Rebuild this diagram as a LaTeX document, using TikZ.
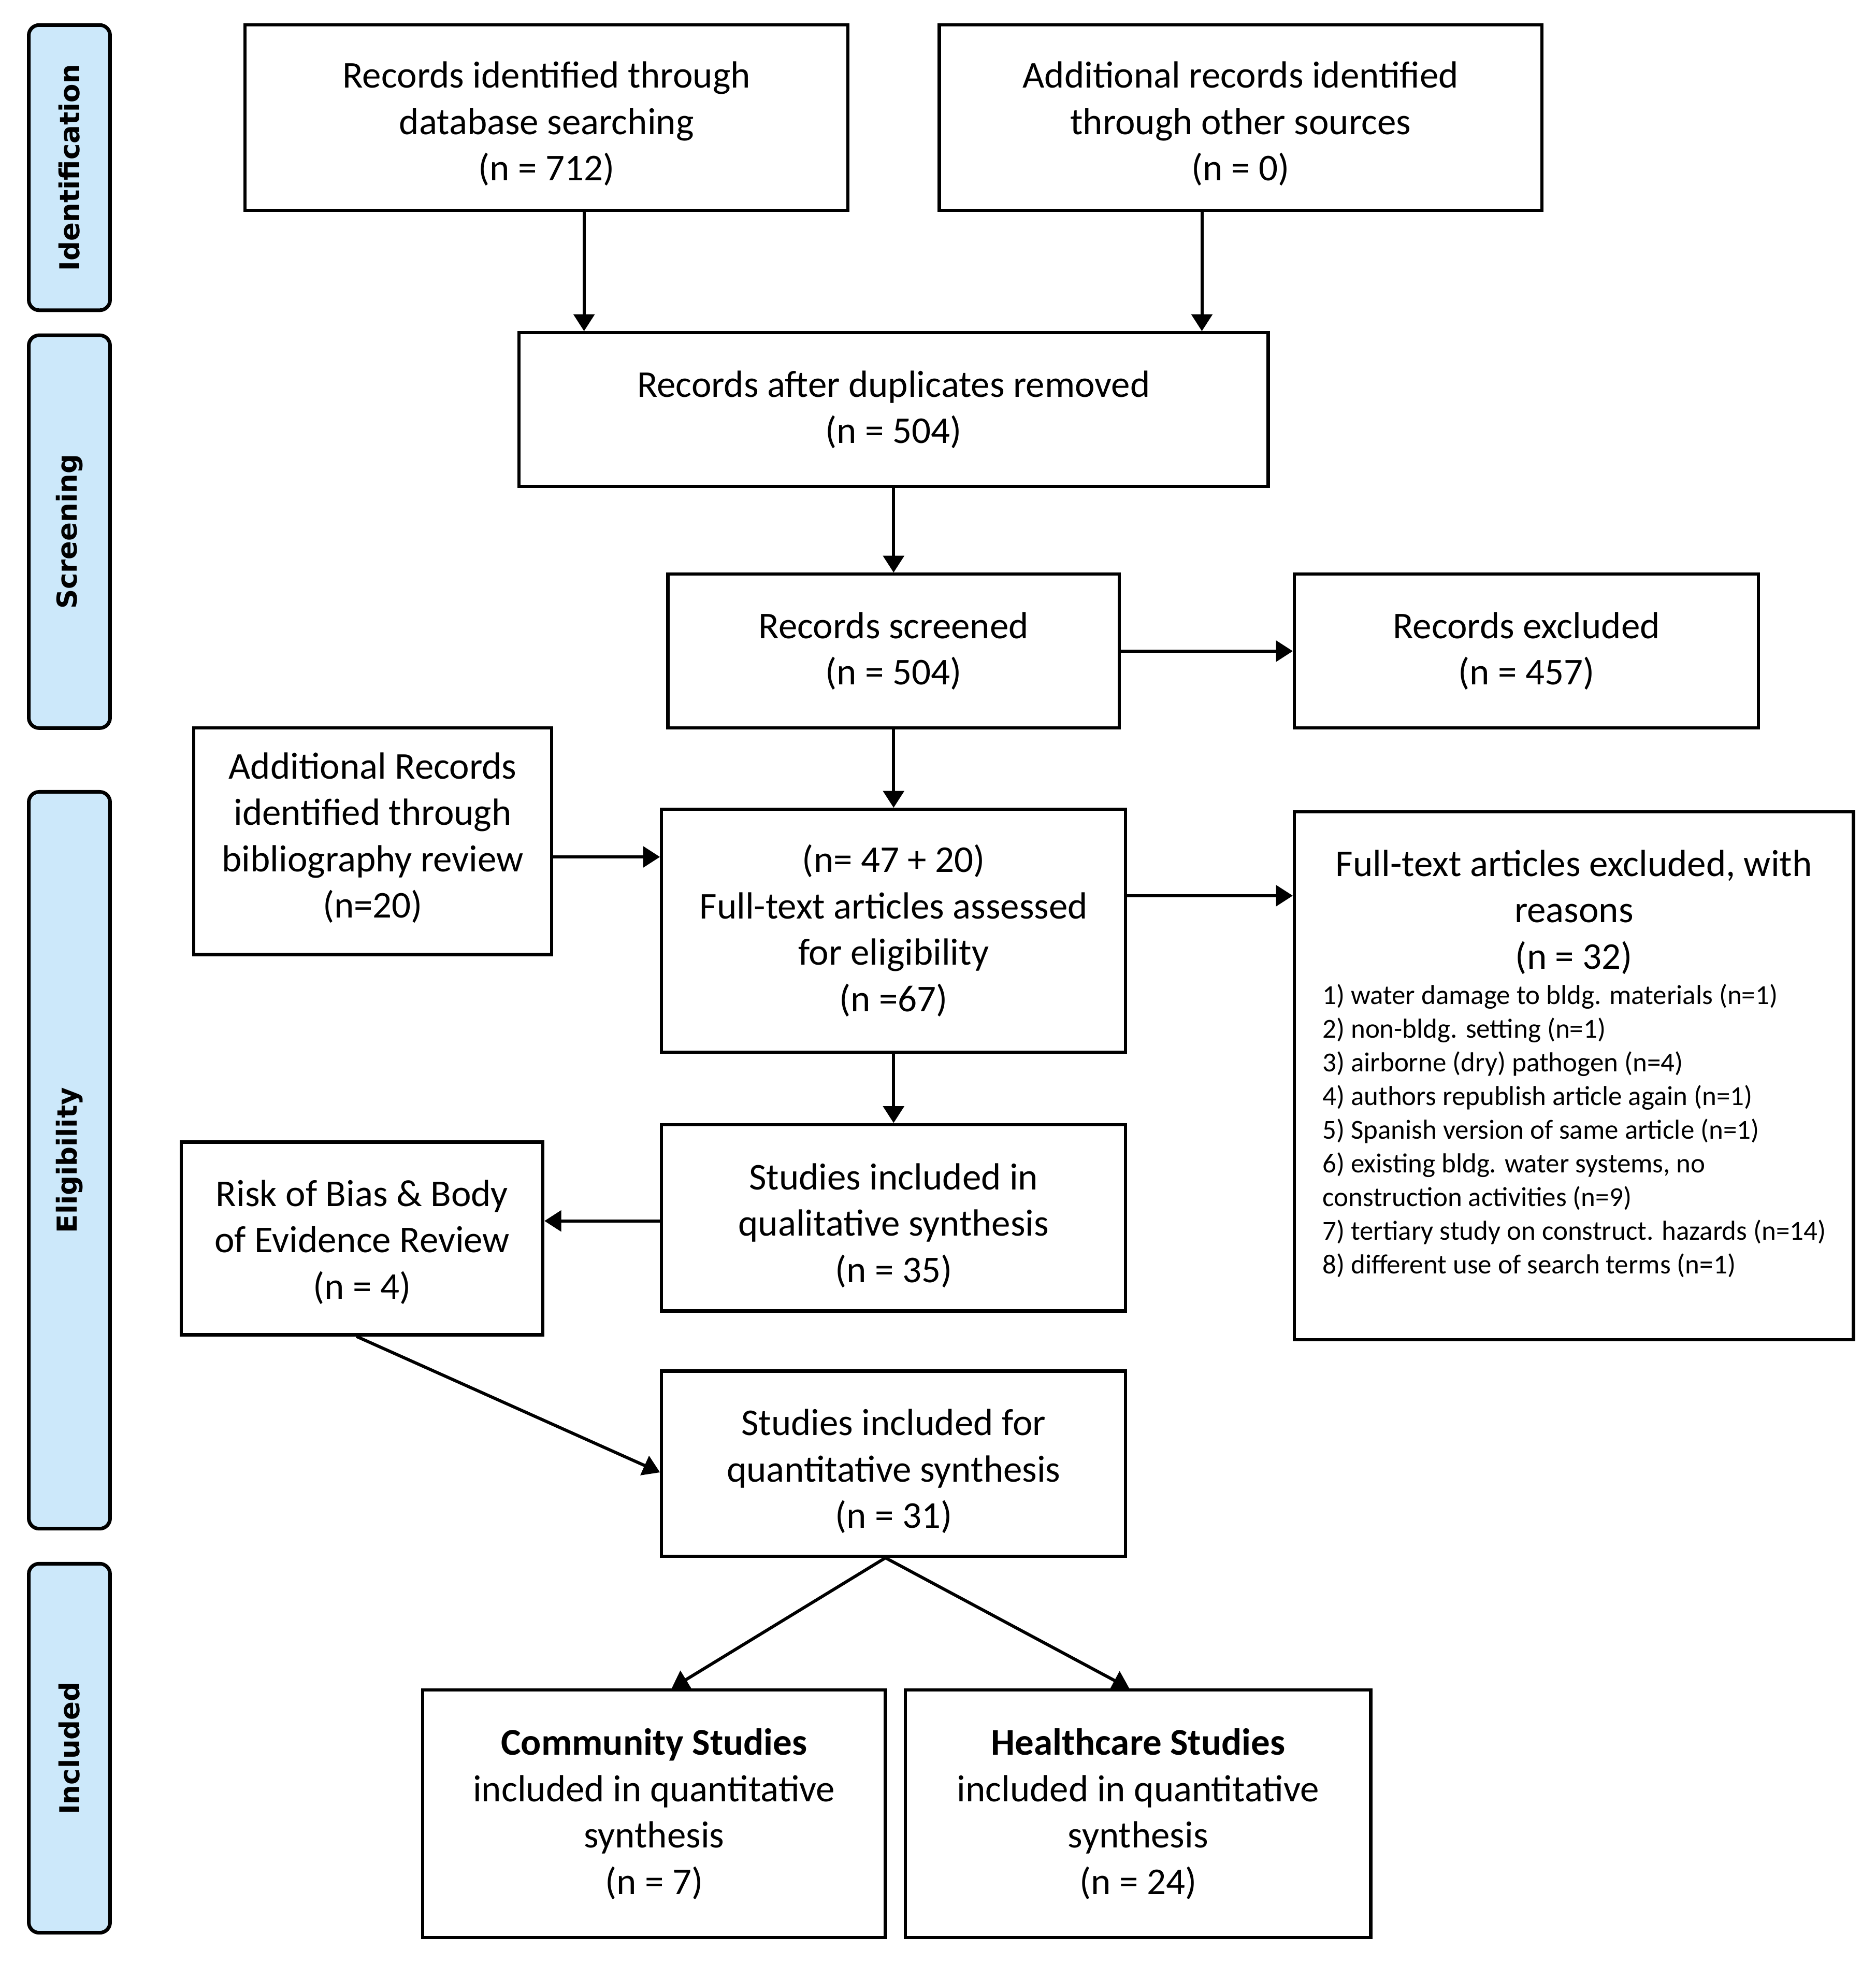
\documentclass[tikz,border=0pt]{standalone}
\usepackage{fontspec}
\setmainfont{Carlito}
\newfontfamily\sidefont{DejaVu Sans}
\usetikzlibrary{arrows.meta}
\definecolor{sideblue}{RGB}{204,232,250}
\def\pxu{0.483pt}
% lower a centred block of lines by #1 without changing its reported size
\newcommand\lowerlines[2]{\raisebox{-#1}[\height][\depth]{\begin{tabular}{@{}c@{}}#2\end{tabular}}}
\begin{document}
\begin{tikzpicture}[x=0.483pt,y=-0.483pt,
  box/.style={draw, line width=1.25pt, align=center, inner sep=0pt, font=\fontsize{14.6}{17.9}\selectfont},
  plain/.style={align=center, inner sep=0pt, font=\fontsize{14.6}{17.9}\selectfont},
  listtext/.style={align=left, inner sep=0pt, font=\fontsize{10.6}{13}\selectfont},
  side/.style={draw, line width=1.4pt, fill=sideblue, rounded corners=4pt, rotate=90,
    minimum height=65*\pxu, inner sep=0pt, font=\sidefont\bfseries\fontsize{10.6}{12}\selectfont},
  arr/.style={line width=1.2pt, -{Triangle[length=6.5pt,width=8pt]}}]

\useasboundingbox (0,0) rectangle (1500,1570);

% phase bars
\node[side, minimum width=228*\pxu] (s1) at (55.5,134) {Identification};
\node[side, minimum width=314*\pxu] (s2) at (55.5,425) {Screening};
\node[side, minimum width=589*\pxu] (s3) at (55.5,927.5) {Eligibility};
\node[side, minimum width=295*\pxu] (s4) at (55.5,1397.5) {Included};

% boxes
\node[box, minimum width=482*\pxu, minimum height=148*\pxu] (b1) at (437,94)
  {\lowerlines{2.9pt}{Records identified through\\database searching\\(n = 712)}};
\node[box, minimum width=482*\pxu, minimum height=148*\pxu] (b2) at (992,94)
  {\lowerlines{2.9pt}{Additional records identified\\through other sources\\(n = 0)}};
\node[box, minimum width=599*\pxu, minimum height=123*\pxu] (b3) at (714.5,327.5)
  {Records after duplicates removed\\(n = 504)};
\node[box, minimum width=361*\pxu, minimum height=123*\pxu] (b4) at (714.5,520.5)
  {Records screened\\(n = 504)};
\node[box, minimum width=371*\pxu, minimum height=123*\pxu] (b5) at (1220.5,520.5)
  {Records excluded\\(n = 457)};
\node[box, minimum width=286*\pxu, minimum height=181*\pxu] (b6) at (298,672.5)
  {\lowerlines{-0.9pt}{Additional Records\\identified through\\bibliography review\\(n=20)}};
\node[box, minimum width=371*\pxu, minimum height=194*\pxu] (b7) at (714.5,744)
  {(n= 47 + 20)\\Full-text articles assessed\\for eligibility\\(n =67)};
\node[box, minimum width=447*\pxu, minimum height=422*\pxu] (b8) at (1258.5,860) {};
\node[plain] (b8h) at (1258.5,729) {Full-text articles excluded, with\\reasons\\(n = 32)};
\node[listtext, anchor=west] (b8l) at (1057,904)
  {1) water damage to bldg. materials (n=1)\\
   2) non-bldg. setting (n=1)\\
   3) airborne (dry) pathogen (n=4)\\
   4) authors republish article again (n=1)\\
   5) Spanish version of same article (n=1)\\
   6) existing bldg. water systems, no\\
   construction activities (n=9)\\
   7) tertiary study on construct. hazards (n=14)\\
   8) different use of search terms (n=1)};
\node[box, minimum width=289*\pxu, minimum height=154*\pxu] (b9) at (289.5,990)
  {\lowerlines{1.9pt}{Risk of Bias \& Body\\of Evidence Review\\(n = 4)}};
\node[box, minimum width=371*\pxu, minimum height=149*\pxu] (b10) at (714.5,973.5)
  {\lowerlines{3.4pt}{Studies included in\\qualitative synthesis\\(n = 35)}};
\node[box, minimum width=371*\pxu, minimum height=148*\pxu] (b11) at (714.5,1170)
  {\lowerlines{3.4pt}{Studies included for\\quantitative synthesis\\(n = 31)}};
\node[box, minimum width=370*\pxu, minimum height=198*\pxu] (b12) at (523,1450)
  {\textbf{Community Studies}\\included in quantitative\\synthesis\\(n = 7)};
\node[box, minimum width=372*\pxu, minimum height=198*\pxu] (b13) at (910,1450)
  {\textbf{Healthcare Studies}\\included in quantitative\\synthesis\\(n = 24)};

% connectors
\draw[arr] (b1.south -| 467,0) -- (b3.north -| 467,0);
\draw[arr] (b2.south -| 961,0) -- (b3.north -| 961,0);
\draw[arr] (b3.south) -- (b4.north);
\draw[arr] (b4.east) -- (b5.west);
\draw[arr] (b4.south) -- (b7.north);
\draw[arr] (b6.east |- 0,685) -- (b7.west |- 0,685);
\draw[arr] (b7.east |- 0,716) -- (b8.west |- 0,716);
\draw[arr] (b7.south) -- (b10.north);
\draw[arr] (b10.west |- 0,976) -- (b9.east |- 0,976);
\draw[arr] (b9.south -| 285,0) -- (b11.west |- 0,1177);
\draw[arr] (b11.south -| 708,0) -- (b12.north -| 537,0);
\draw[arr] (b11.south -| 708,0) -- (b13.north -| 903,0);
\end{tikzpicture}
\end{document}
